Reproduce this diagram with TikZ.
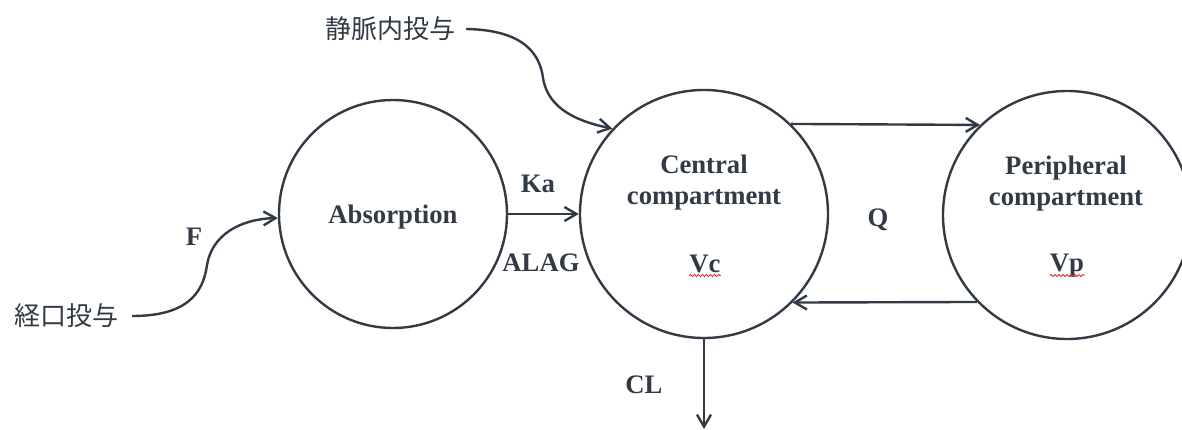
\documentclass[tikz,border=0pt]{standalone}
\usepackage{fontspec}
\setmainfont{Liberation Serif}
\newfontfamily\jpfont{Noto Sans CJK JP}
\usetikzlibrary{arrows.meta,decorations.pathmorphing}
\definecolor{ink}{HTML}{323B45}
\definecolor{spellred}{HTML}{E0302A}
\begin{document}
\begin{tikzpicture}[x=1pt,y=-1pt,
  comp/.style={circle,draw=ink,line width=2.4pt,inner sep=0pt},
  lbl/.style={text=ink,font=\fontsize{26.7}{30}\selectfont\bfseries,inner sep=0pt,anchor=base},
  jp/.style={text=ink,font=\fontsize{26}{30}\selectfont\jpfont,inner sep=0pt},
  flow/.style={draw=ink,line width=2.4pt,-{Straight Barb[length=12pt,width=14pt,line width=2.4pt]}},
  spell/.style={draw=spellred,line width=0.9pt,decorate,decoration={snake,segment length=4pt,amplitude=1.1pt}}]
\clip (0,0) rectangle (1182,430);
% compartments
\node[comp,minimum size=228pt] (abs) at (393,214) {};
\node[comp,minimum size=248pt] (c) at (704,214) {};
\node[comp,minimum size=248pt] (p) at (1067,215) {};
% texts inside
\node[lbl] (abst) at (393,224) {Absorption};
\node[lbl] (ct1) at (704,174) {Central};
\node[lbl] (ct2) at (704,205) {compartment};
\node[lbl] (vc) at (705,272) {Vc};
\node[lbl] (pt1) at (1066,175) {Peripheral};
\node[lbl] (pt2) at (1066,206) {compartment};
\node[lbl] (vp) at (1067,271) {Vp};
% spell-check underlines
\draw[spell] ([yshift=-3.5pt]vc.base west) -- ([yshift=-3.5pt]vc.base east);
\draw[spell] ([yshift=-4.5pt]vp.base west) -- ([yshift=-4.5pt]vp.base east);
% rate labels
\node[lbl] (ka) at (538,193) {Ka};
\node[lbl] (alag) at (541,271) {ALAG};
\node[lbl] (q) at (878,226) {Q};
\node[lbl] (cl) at (644,393) {CL};
\node[lbl] (f) at (194,246) {F};
% dosing labels
\node[jp] (iv) at (390,29) {静脈内投与};
\node[jp] (oral) at (66,316) {経口投与};
% connectors
\draw[flow] ([xshift=11pt]iv.east) .. controls (525,30) and (540,55) .. (543,78)
  .. controls (548,110) and (580,122) .. (c.137);
\draw[flow] ([xshift=14pt]oral.east) .. controls (185,316) and (203,295) .. (207,265)
  .. controls (212,235) and (240,219) .. (abs.182);
\draw[flow] (abs.east) -- (c.west);
\draw[flow] (c.46) -- (p.134);
\draw[flow] (p.224) -- (c.-45);
\coordinate (clend) at (704,429);
\draw[flow] (c.south) -- (clend);
\end{tikzpicture}
\end{document}
